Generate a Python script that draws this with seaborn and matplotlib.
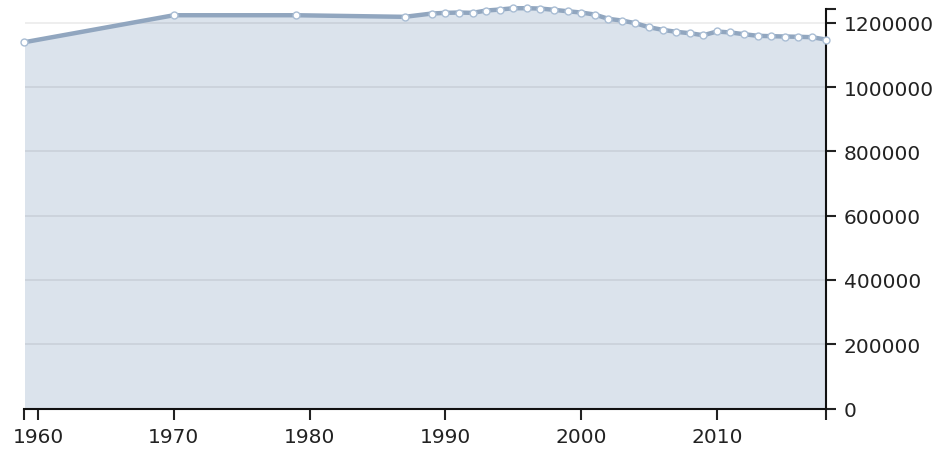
import numpy as np
import pandas as pd
import seaborn as sns
import matplotlib
matplotlib.use("Agg")
from matplotlib import pyplot as plt

# values
years = [1959, 1970, 1979, 1987, 1989, 1990, 1991, 1992, 1993, 1994, 1995, 1996,
         1997, 1998, 1999, 2000, 2001, 2002, 2003, 2004, 2005, 2006, 2007, 2008,
         2009, 2010, 2011, 2012, 2013, 2014, 2015, 2016, 2017, 2018]
population = [1139700, 1223600, 1223600, 1218600, 1228900, 1231000, 1232000, 1231000,
              1238200, 1241300, 1245400, 1245400, 1244400, 1240400, 1236000, 1232000,
              1225800, 1212400, 1207100, 1198800, 1186300, 1178200, 1172000, 1167700,
              1161400, 1173000, 1169900, 1164600, 1159600, 1158400, 1157400, 1156500,
              1155300, 1148100]
xticks = [1960, 1970, 1980, 1990, 2000, 2010]
yticks = [0, 200000, 400000, 600000, 800000, 1000000, 1200000]

df = pd.DataFrame({"year": years, "pop": population})

sns.set_style("white")
plt.rcParams["font.family"] = ["DejaVu Sans"]

fig = plt.figure(figsize=(9.42, 4.52), dpi=100)
ax = fig.add_axes([24.5 / 942, 1 - 409.5 / 452, (825.5 - 24.5) / 942, (409.5 - 10) / 452])

ax.fill_between(df["year"], df["pop"], 0, color="#dbe3ec", zorder=1, linewidth=0)
for y in yticks:
    ax.axhline(y, color="black", alpha=0.08, linewidth=1.2, zorder=2)
sns.lineplot(data=df, x="year", y="pop", ax=ax, color="#91a6bf", linewidth=3.2,
             marker="o", markersize=5, markerfacecolor="white",
             markeredgecolor="#a9bdd4", markeredgewidth=1.0, zorder=3, clip_on=False)

ax.set_xlim(1959, 2018)
ax.set_ylim(0, 1243000)
ax.set_xticks(xticks)
ax.set_xticks([1959, 2018], minor=True)
ax.set_yticks(yticks)
ax.set_yticks([1243000], minor=True)
ax.set_yticklabels([str(v) for v in yticks])
ax.yaxis.tick_right()
ax.yaxis.set_label_position("right")
ax.set_xlabel("")
ax.set_ylabel("")

for s in ["top", "left"]:
    ax.spines[s].set_visible(False)
for s in ["bottom", "right"]:
    ax.spines[s].set_color("#111111")
    ax.spines[s].set_linewidth(1.5)

ax.tick_params(axis="x", which="both", direction="out", length=8, width=1.5,
               color="#222222", labelsize=14.5, labelcolor="#222222", pad=5, bottom=True)
ax.tick_params(axis="y", which="both", direction="out", length=7.5, width=1.5,
               color="#222222", labelsize=14.5, labelcolor="#222222", pad=5.5, right=True, left=False)

fig.savefig("out.png", dpi=100)
